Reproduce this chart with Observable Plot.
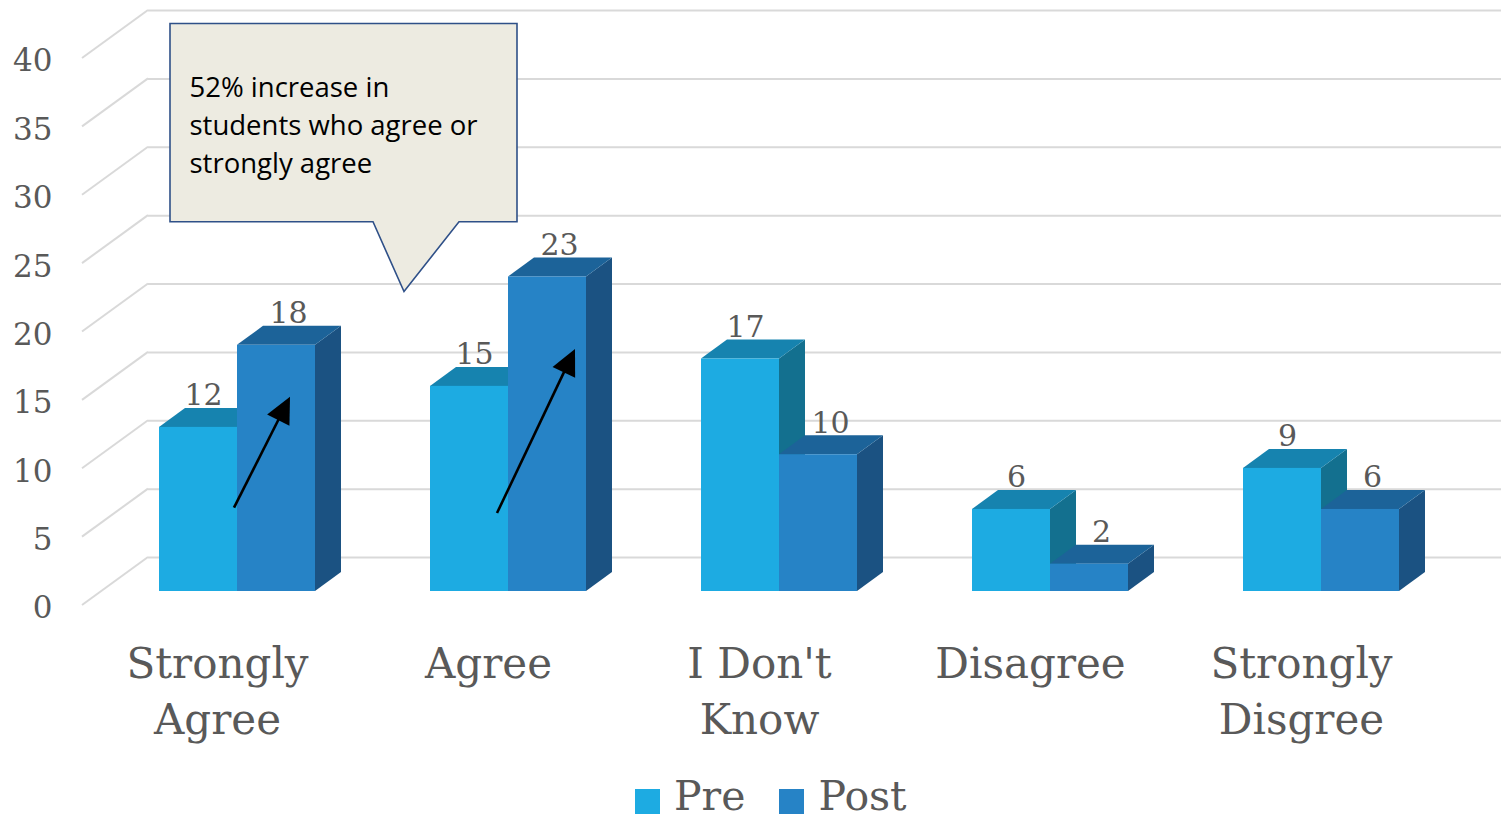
<!DOCTYPE html>
<html>
<head>
<meta charset="utf-8">
<script src="https://cdn.jsdelivr.net/npm/d3@7"></script>
<script src="https://cdn.jsdelivr.net/npm/@observablehq/plot@0.6"></script>
<style>
  html, body { margin: 0; padding: 0; background: #fff; }
  #chart svg { display: block; }
  .legend { display: flex; align-items: center; height: 41px; margin-top: 16px; padding-left: 635px;
            font-family: "DejaVu Serif", serif; font-size: 41px; line-height: 41px; color: #595959; }
  .legend .item { display: flex; align-items: center; margin-right: 34px; }
  .legend .sw { width: 25px; height: 25px; margin-right: 14px; position: relative; top: 5px; }
</style>
</head>
<body>
<div id="chart"></div>
<div class="legend" id="legend"></div>
<script>
// ---- data ----
const categories = ["Strongly Agree", "Agree", "I Don't Know", "Disagree", "Strongly Disgree"];
const categoryLabels = ["Strongly\nAgree", "Agree", "I Don't\nKnow", "Disagree", "Strongly\nDisgree"];
const preValues = [12, 15, 17, 6, 9];
const postValues = [18, 23, 10, 2, 6];
const seriesNames = ["Pre", "Post"];
const yTicks = [0, 5, 10, 15, 20, 25, 30, 35, 40];
const calloutLines = ["52% increase in", "students who agree or", "strongly agree"];
const arrowsData = [
  {category: "Strongly Agree", from: 6.1, to: 14.2},
  {category: "Agree", from: 5.7, to: 17.7}
];

// ---- styles / layout ----
const preColors = {front: "#1DABE2", top: "#1683AF", side: "#13708F"};
const postColors = {front: "#2683C6", top: "#1C6399", side: "#1B5282"};
const textColor = "#595959";
const gridColor = "#D9D9D9";
const W = 1501, H = 760;
const DX = 26, DY = 19;          // bar depth (px)
const GX = 66, GF = 14, GB = 34; // wall depth: front offset +14, back offset -34
const arrowLayout = [{tail: -3, tip: 53}, {tail: -11, tip: 67}];

const rows = categories.map((c, i) => ({category: c, label: categoryLabels[i], pre: preValues[i], post: postValues[i]}));

function bwOf(x) { return typeof x.bandwidth === "function" ? x.bandwidth() : x.bandwidth; }

function faces(key, slot, colors) {
  return (index, scales) => {
    const x = scales.x, y = scales.y;
    const w = bwOf(x) / 2;
    const g = d3.create("svg:g");
    for (const r of rows) {
      const x0 = x(r.category) + slot * w, x1 = x0 + w;
      const yt = y(r[key]), yb = y(0);
      g.append("path").attr("fill", colors.side)
        .attr("d", `M${x1},${yt}L${x1 + DX},${yt - DY}L${x1 + DX},${yb - DY}L${x1},${yb}Z`);
      g.append("path").attr("fill", colors.top)
        .attr("d", `M${x0},${yt}L${x1},${yt}L${x1 + DX},${yt - DY}L${x0 + DX},${yt - DY}Z`);
    }
    return g.node();
  };
}

function gridDiagonals(index, scales, values, dims) {
  const y = scales.y;
  const g = d3.create("svg:g").attr("stroke", gridColor).attr("stroke-width", 2);
  const x0 = dims.marginLeft;
  for (const v of yTicks) {
    g.append("line").attr("x1", x0).attr("y1", y(v) + GF).attr("x2", x0 + GX).attr("y2", y(v) - GB);
  }
  return g.node();
}

function arrowsMark(index, scales) {
  const x = scales.x, y = scales.y;
  const bw = bwOf(x);
  const g = d3.create("svg:g");
  arrowsData.forEach((a, i) => {
    const cx = x(a.category) + bw / 2;
    const x1 = cx + arrowLayout[i].tail, y1 = y(a.from);
    const x2 = cx + arrowLayout[i].tip, y2 = y(a.to);
    const len = Math.hypot(x2 - x1, y2 - y1);
    const ux = (x2 - x1) / len, uy = (y2 - y1) / len;
    const hl = 26, hw = 12.5;
    const bx = x2 - ux * hl, by = y2 - uy * hl;
    g.append("line").attr("x1", x1).attr("y1", y1).attr("x2", bx + ux * 2).attr("y2", by + uy * 2)
      .attr("stroke", "#000").attr("stroke-width", 2.6);
    g.append("path").attr("fill", "#000")
      .attr("d", `M${x2},${y2}L${bx - uy * hw},${by + ux * hw}L${bx + uy * hw},${by - ux * hw}Z`);
  });
  return g.node();
}

function calloutMark(index, scales) {
  const x = scales.x, y = scales.y;
  const bx = x(categories[0]);
  const left = bx + 11, right = bx + 358, top = y(41.5), bottom = y(27);
  const p1 = bx + 214, p2 = bx + 300, tipX = bx + 245, tipY = y(21.9);
  const d = `M${left},${top}L${right},${top}L${right},${bottom}L${p2},${bottom}L${tipX},${tipY}L${p1},${bottom}L${left},${bottom}Z`;
  return d3.create("svg:path").attr("d", d).attr("fill", "#EDEBE1")
    .attr("stroke", "#2F5088").attr("stroke-width", 1.6).attr("stroke-linejoin", "miter").node();
}

const chart = Plot.plot({
  width: W,
  height: H,
  marginLeft: 82,
  marginRight: 25,
  marginTop: 44,
  marginBottom: H - 591,
  x: {type: "band", domain: categories, paddingInner: 0.42435, paddingOuter: 0.28413, round: false, axis: null},
  y: {domain: [0, 40], axis: null},
  style: {fontFamily: '"DejaVu Serif", serif', background: "#fff", color: textColor, overflow: "visible"},
  marks: [
    gridDiagonals,
    Plot.ruleY(yTicks, {dy: -GB, insetLeft: GX, insetRight: -25, stroke: gridColor, strokeWidth: 2}),
    Plot.text(yTicks, {y: d => d, text: d => String(d), frameAnchor: "left", textAnchor: "end",
      dx: -30, dy: 17, fontSize: 31, fill: textColor}),
    faces("pre", 0, preColors),
    Plot.barY(rows, {x: "category", y: "pre", fill: preColors.front, insetRight: 78}),
    faces("post", 1, postColors),
    Plot.barY(rows, {x: "category", y: "post", fill: postColors.front, insetLeft: 78}),
    Plot.text(rows, {x: "category", y: "pre", text: "pre", dx: -34, dy: -22, lineAnchor: "bottom",
      fontSize: 30, fill: textColor}),
    Plot.text(rows, {x: "category", y: "post", text: "post", dx: 51, dy: -22, lineAnchor: "bottom",
      fontSize: 30, fill: textColor}),
    Plot.text(rows, {x: "category", text: "label", frameAnchor: "bottom", lineAnchor: "top",
      dx: -20, dy: 47, fontSize: 42, lineHeight: 1.333, fill: textColor}),
    arrowsMark,
    calloutMark,
    Plot.text([calloutLines.join("\n")], {x: () => categories[0], y: () => 41.5, text: d => d,
      textAnchor: "start", lineAnchor: "top", dx: -48, dy: 46.5, fontSize: 27.5, lineHeight: 1.38,
      fontFamily: '"Open Sans", sans-serif', fill: "#000"})
  ]
});
document.getElementById("chart").appendChild(chart);

// legend
const legend = document.getElementById("legend");
const legendColors = [preColors.front, postColors.front];
seriesNames.forEach((name, i) => {
  const item = document.createElement("div");
  item.className = "item";
  const sw = document.createElement("span");
  sw.className = "sw";
  sw.style.background = legendColors[i];
  const t = document.createElement("span");
  t.textContent = name;
  item.appendChild(sw);
  item.appendChild(t);
  legend.appendChild(item);
});
</script>
</body>
</html>
